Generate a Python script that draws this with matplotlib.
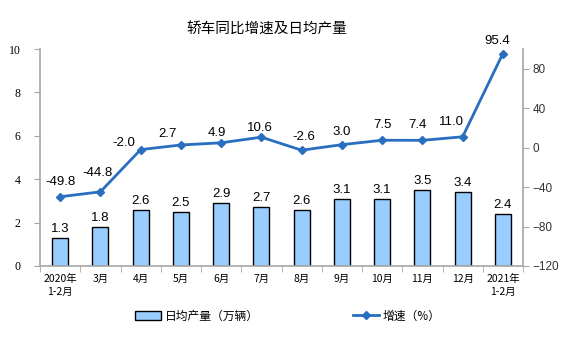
import matplotlib
matplotlib.use("Agg")
import matplotlib.pyplot as plt
import numpy as np
from matplotlib.ticker import FixedLocator

plt.rcParams['font.family'] = ['Noto Sans CJK SC', 'DejaVu Sans']

categories = ["2020年\n1-2月", "3月", "4月", "5月", "6月", "7月", "8月", "9月", "10月", "11月", "12月", "2021年\n1-2月"]
daily_output = [1.3, 1.8, 2.6, 2.5, 2.9, 2.7, 2.6, 3.1, 3.1, 3.5, 3.4, 2.4]
growth = [-49.8, -44.8, -2.0, 2.7, 4.9, 10.6, -2.6, 3.0, 7.5, 7.4, 11.0, 95.4]
left_ticks = [0, 2, 4, 6, 8, 10]
right_ticks = [-120, -80, -40, 0, 40, 80]

# label placement (pixels, label centre relative to point) - styling only
line_label_offsets = [(0, 15), (-3, 19), (-17, 7), (-13, 11), (-4, 10), (-1, 9),
                      (2, 13), (0, 13), (0, 15), (-5, 15), (-11, 15), (-6, 13)]

bar_color = "#99CCFF"
line_color = "#2A6EC0"
spine_color = "#A6A6A6"
PX = 72 / 100.0

fig = plt.figure(figsize=(5.76, 3.58), dpi=100)
ax = fig.add_axes([40/576, 1-266/358, (523-40)/576, (266-49)/358])
x = np.arange(len(categories))
ax.bar(x, daily_output, width=0.4, color=bar_color, edgecolor="black", linewidth=1.0,
       label="日均产量（万辆）", zorder=2)
ax.set_xlim(-0.5, len(categories) - 0.5)
ax.set_ylim(0, 10)
ax.set_yticks(left_ticks)
ax.set_yticklabels([str(t) for t in left_ticks], fontfamily="Liberation Serif", fontsize=8.5)
ax.set_xticks(x)
ax.set_xticklabels(categories, fontsize=7.5, linespacing=1.3)
ax.tick_params(axis='x', length=0, pad=6)
ax.xaxis.set_minor_locator(FixedLocator(np.arange(-0.5, len(categories), 1)))
ax.tick_params(axis='x', which='minor', length=4, color=spine_color, direction='out')
ax.tick_params(axis='y', length=4, color=spine_color, direction='out', pad=10)
for s in ["top", "right"]:
    ax.spines[s].set_visible(False)
for s in ["left", "bottom"]:
    ax.spines[s].set_color(spine_color)
    ax.spines[s].set_linewidth(1.2)

for xi, v in zip(x, daily_output):
    ax.annotate(f"{v:.1f}", (xi, v), xytext=(0, 9 * PX), textcoords="offset points",
                ha="center", va="center", fontsize=9.5, fontfamily="Liberation Sans")

ax2 = ax.twinx()
ax2.plot(x, growth, color=line_color, linewidth=2, marker="D", markersize=4,
         label="增速（%）", zorder=3)
ax2.set_ylim(-120, 100)
ax2.set_yticks(right_ticks)
ax2.set_yticklabels([str(t).replace("-", "−") for t in right_ticks], fontfamily="Liberation Sans", fontsize=8.5)
ax2.tick_params(axis='y', length=4, color=spine_color, direction='out', pad=3, labelcolor="#333333")
for s in ["top", "left", "bottom"]:
    ax2.spines[s].set_visible(False)
ax2.spines["right"].set_color(spine_color)
ax2.spines["right"].set_linewidth(1.2)

for xi, v, (dx, dy) in zip(x, growth, line_label_offsets):
    ax2.annotate(f"{v:.1f}", (xi, v), xytext=(dx * PX, dy * PX), textcoords="offset points",
                 ha="center", va="center", fontsize=9.5, fontfamily="Liberation Sans")

fig.text(267/576, 1-30/358, "轿车同比增速及日均产量", ha="center", va="center", fontsize=10.5)

h1, l1 = ax.get_legend_handles_labels()
h2, l2 = ax2.get_legend_handles_labels()
fig.legend(h1 + h2, l1 + l2, loc="center", bbox_to_anchor=(0.5, 1-316/358), ncol=2,
           frameon=False, fontsize=8.5, columnspacing=8, handlelength=2.2, handletextpad=0.3)

fig.savefig("out.png", dpi=100)
